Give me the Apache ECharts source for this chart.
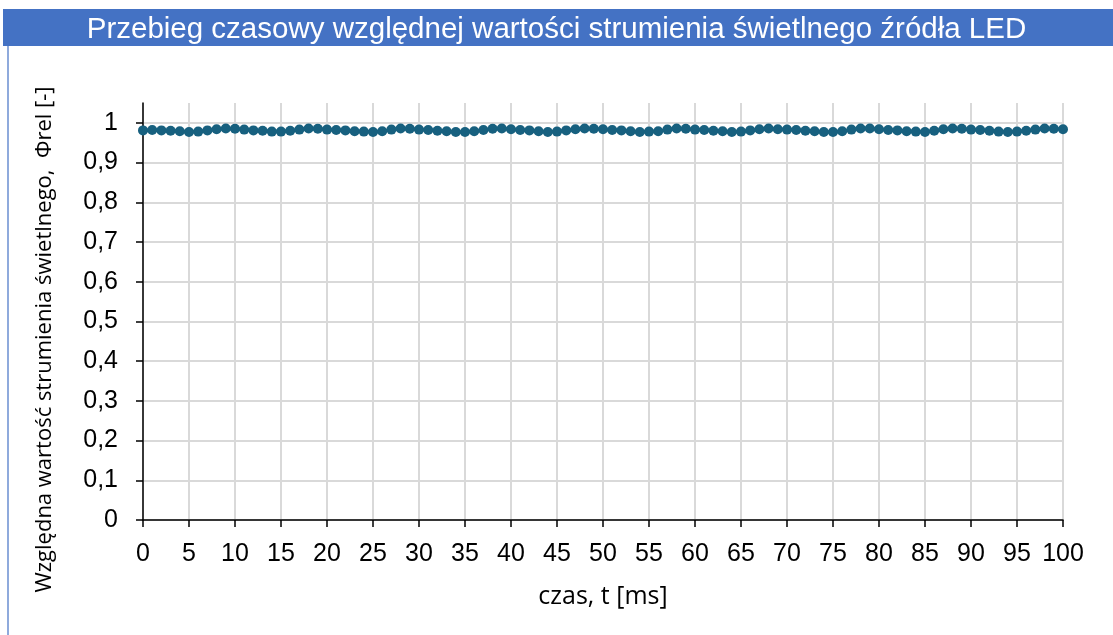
<!DOCTYPE html>
<html>
<head>
<meta charset="utf-8">
<script src="https://cdn.jsdelivr.net/npm/echarts@6/dist/echarts.min.js"></script>
<style>html,body{margin:0;padding:0;background:#fff}#c{width:1113px;height:635px}</style>
</head>
<body>
<div id="c"></div>
<script>
const titleText = 'Przebieg czasowy względnej wartości strumienia świetlnego źródła LED';
const xAxisName = 'czas, t [ms]';
const yAxisName = 'Względna wartość strumienia świetlnego,  Φrel [-]';
const timeMs = [0,1,2,3,4,5,6,7,8,9,10,11,12,13,14,15,16,17,18,19,20,21,22,23,24,25,26,27,28,29,30,31,32,33,34,35,36,37,38,39,40,41,42,43,44,45,46,47,48,49,50,51,52,53,54,55,56,57,58,59,60,61,62,63,64,65,66,67,68,69,70,71,72,73,74,75,76,77,78,79,80,81,82,83,84,85,86,87,88,89,90,91,92,93,94,95,96,97,98,99,100];
const phiRel = [0.981,0.982,0.981,0.980,0.979,0.977,0.978,0.981,0.984,0.986,
0.985,0.983,0.981,0.980,0.978,0.978,0.980,0.983,0.986,0.985,
0.983,0.982,0.981,0.979,0.978,0.977,0.979,0.983,0.986,0.985,
0.983,0.982,0.980,0.979,0.977,0.977,0.979,0.982,0.985,0.986,
0.984,0.982,0.981,0.979,0.977,0.978,0.981,0.984,0.986,0.985,
0.984,0.982,0.981,0.979,0.977,0.978,0.979,0.983,0.986,0.985,
0.983,0.982,0.980,0.979,0.977,0.978,0.981,0.984,0.986,0.984,
0.983,0.982,0.980,0.979,0.977,0.977,0.979,0.983,0.986,0.986,
0.984,0.982,0.981,0.979,0.978,0.977,0.980,0.984,0.986,0.985,
0.983,0.982,0.980,0.978,0.977,0.978,0.980,0.983,0.986,0.985,
0.984];

const chart = echarts.init(document.getElementById('c'), null, {renderer: 'canvas'});
const seriesData = timeMs.map((t, i) => [t, phiRel[i]]);
const gridColors = [];
for (let i = 0; i < 11; i++) gridColors.push('#d9d9d9');
gridColors.push('rgba(0,0,0,0)');

chart.setOption({
  animation: false,
  backgroundColor: '#fff',
  title: {
    text: titleText,
    left: 'center',
    top: 10,
    padding: [5, 5, 5, 17],
    textStyle: {color: '#fff', fontFamily: 'Liberation Sans', fontWeight: 'normal', fontSize: 29.5}
  },
  graphic: [
    {type: 'rect', z: -1, shape: {x: 3, y: 9, width: 1110, height: 37}, style: {fill: '#4472C4'}},
    {type: 'line', shape: {x1: 8, y1: 46, x2: 8, y2: 635}, style: {stroke: '#8FAADC', lineWidth: 2}}
  ],
  grid: {left: 143, right: 50, top: 103, bottom: 115},
  xAxis: {
    type: 'value', min: 0, max: 100, interval: 5,
    name: xAxisName, nameLocation: 'middle', nameGap: 64,
    nameTextStyle: {fontFamily: 'Open Sans', fontSize: 25, color: '#000'},
    axisLine: {show: true, onZero: false, lineStyle: {color: '#000', width: 1.5}},
    axisTick: {show: true, length: 7, lineStyle: {color: '#000', width: 1.5}},
    axisLabel: {fontFamily: 'Liberation Sans', fontSize: 25, color: '#000', margin: 22},
    splitLine: {show: true, lineStyle: {color: '#d9d9d9', width: 2}}
  },
  yAxis: {
    type: 'value', min: 0, max: 1.05, interval: 0.1,
    name: yAxisName, nameLocation: 'middle', nameGap: 87,
    nameTextStyle: {fontFamily: 'Open Sans', fontSize: 22, color: '#000', padding: [0, 56, 0, 0]},
    axisLine: {show: true, lineStyle: {color: '#000', width: 1.5}},
    axisTick: {show: true, length: 7, lineStyle: {color: '#000', width: 1.5}},
    axisLabel: {fontFamily: 'Liberation Sans', fontSize: 25, color: '#000', margin: 25, showMaxLabel: false,
      formatter: v => String(Math.round(v * 10) / 10).replace('.', ',')},
    splitLine: {show: true, lineStyle: {color: gridColors, width: 2}}
  },
  series: [{
    type: 'line',
    data: seriesData,
    symbol: 'circle',
    symbolSize: 10,
    lineStyle: {color: '#17607F', width: 3.5},
    itemStyle: {color: '#17607F'},
    z: 3
  }]
});
</script>
</body>
</html>
